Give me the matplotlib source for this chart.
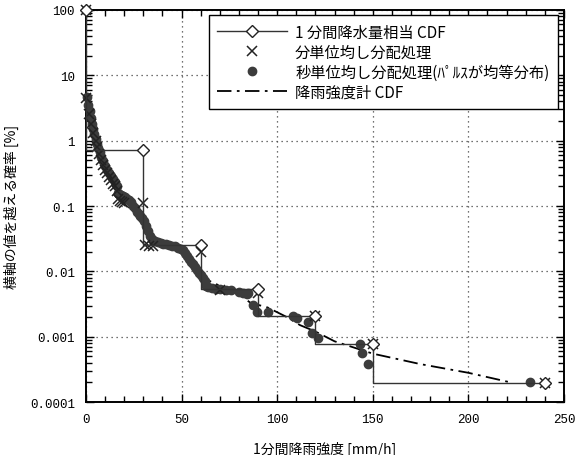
import numpy as np
import matplotlib
matplotlib.use("Agg")
import matplotlib.pyplot as plt
from matplotlib.ticker import FixedLocator, MultipleLocator, FuncFormatter, LogLocator, NullFormatter

plt.rcParams['font.family'] = ['Noto Sans CJK JP', 'DejaVu Sans']

# 1分間降水量相当 CDF (steps)
step_x = [0, 30, 60, 90, 120, 150, 240]
step_y = [100, 0.73, 0.025, 0.0053, 0.0021, 0.00076, 0.000195]

# 分単位均し分配処理
min_x = [0, 0, 1.5, 2.5, 3.5, 5, 6, 7, 8, 9, 10, 11, 12, 13, 14, 15, 16, 17, 18, 19, 20,
         30, 31, 33, 35, 60, 70, 90, 120, 150, 240]
min_y = [100, 4.5, 2.6, 1.8, 1.3, 1.0, 0.8, 0.62, 0.5, 0.42, 0.36, 0.32, 0.28, 0.25, 0.22,
         0.2, 0.17, 0.13, 0.12, 0.115, 0.11,
         0.11, 0.025, 0.024, 0.024, 0.02, 0.0052, 0.0046, 0.0021, 0.00076, 0.000195]

# 秒単位均し分配処理(パルスが均等分布)
sec_x = [0, 0.3, 1, 2, 2.6, 3.2, 3.8, 4.4, 5, 5.8, 6.5, 7.2, 8, 9, 10, 11, 12, 13, 14, 15,
         16, 16.5, 17.5, 18.5, 19.5, 20.5, 21.5, 22.5, 23.5, 24.5, 25.5, 26.5, 27.5, 28.5,
         29.5, 30.5, 31.5, 32.5, 33.5, 34.5, 36, 37.5, 39, 40.5, 42, 43.5, 45, 46.5, 48,
         49.5, 51, 52, 53, 54, 55, 56, 57, 58, 59, 60, 61, 62, 63, 64, 66, 68, 70, 73, 76,
         80, 82, 84, 85, 87.5, 89.3, 95.3, 108.4, 110.2, 116.3, 118, 121.5, 143.3, 144.2,
         147.6, 232.2]
sec_y = [100, 4.6, 3.5, 2.8, 2.2, 1.8, 1.5, 1.25, 1.05, 0.9, 0.78, 0.66, 0.56, 0.48, 0.41,
         0.36, 0.32, 0.29, 0.26, 0.23, 0.2, 0.16, 0.15, 0.145, 0.14, 0.135, 0.13, 0.125,
         0.115, 0.1, 0.092, 0.08, 0.075, 0.07, 0.065, 0.058, 0.05, 0.042, 0.035, 0.031,
         0.029, 0.028, 0.027, 0.0265, 0.026, 0.025, 0.0245, 0.024, 0.023, 0.022, 0.021,
         0.019, 0.017, 0.0155, 0.014, 0.0128, 0.0115, 0.0105, 0.0095, 0.0088, 0.0078,
         0.007, 0.006, 0.0057, 0.0055, 0.0054, 0.0053, 0.0052, 0.0051, 0.0048, 0.0047,
         0.0045, 0.0046, 0.0031, 0.0024, 0.0024, 0.0021, 0.0019, 0.0017, 0.00114, 0.00097,
         0.00077, 0.00056, 0.00038, 0.0002]

# 降雨強度計 CDF
gauge_x = [0, 0, 2, 5, 10, 15, 17, 22, 27, 30, 33, 36, 45, 50, 55, 60, 63, 70, 80, 86, 95,
           105, 112, 120, 130, 150, 175, 200, 222]
gauge_y = [100, 5, 2.5, 1.1, 0.42, 0.23, 0.15, 0.12, 0.08, 0.06, 0.037, 0.029, 0.025, 0.02,
           0.013, 0.009, 0.0075, 0.006, 0.0045, 0.0033, 0.0028, 0.002, 0.0015, 0.0012,
           0.00085, 0.00055, 0.00038, 0.00028, 0.0002]

fig = plt.figure(figsize=(5.79, 4.56), dpi=100)
ax = fig.add_axes([0.1485, 0.1162, 0.8255, 0.8597])

ax.plot(gauge_x, gauge_y, color="black", lw=1.3, dashes=(8, 3, 1.5, 3),
        label="降雨強度計 CDF", zorder=2)
ax.plot(step_x, step_y, drawstyle="steps-pre", color="#333333", lw=1.0, marker="D",
        ms=6.5, mfc="white", mec="#222222", mew=1.0, label="1 分間降水量相当 CDF",
        zorder=5, clip_on=False)
ax.plot(min_x, min_y, ls="none", marker="x", ms=7, mec="#222222", mew=1.1,
        label="分単位均し分配処理", zorder=4, clip_on=False)
ax.plot(sec_x, sec_y, ls="none", marker="o", ms=6, mfc="#3c3c3c", mec="#3c3c3c",
        label="秒単位均し分配処理(ﾊﾟﾙｽが均等分布)", zorder=3, clip_on=False)

ax.set_yscale("log")
ax.set_xlim(0, 250)
ax.set_ylim(0.0001, 100)
ax.xaxis.set_major_locator(MultipleLocator(50))
ax.xaxis.set_minor_locator(MultipleLocator(10))
ax.yaxis.set_major_locator(FixedLocator([1e-4, 1e-3, 1e-2, 1e-1, 1, 10, 100]))
ax.yaxis.set_minor_locator(LogLocator(base=10, subs=np.arange(2, 10), numticks=20))
ax.yaxis.set_minor_formatter(NullFormatter())
ax.yaxis.set_major_formatter(FuncFormatter(lambda v, p: f"{v:g}"))

ax.tick_params(which="both", direction="in", top=True, right=True, width=1.0,
               labelsize=9, pad=8)
ax.tick_params(which="major", length=6)
ax.tick_params(which="minor", length=4)
for lab in ax.get_xticklabels() + ax.get_yticklabels():
    lab.set_family("Liberation Mono")
for s in ax.spines.values():
    s.set_linewidth(1.4)

ax.grid(True, which="major", color="#444444", lw=0.9, ls=(0, (1, 3)))

ax.set_xlabel("1分間降雨強度 [mm/h]", fontsize=10, labelpad=11)
ax.set_ylabel("横軸の値を越える確率 [%]", fontsize=10, labelpad=8)

h, l = ax.get_legend_handles_labels()
order = [1, 2, 3, 0]
leg = ax.legend([h[i] for i in order], [l[i] for i in order], loc="upper right",
                bbox_to_anchor=(0.987, 0.987), borderaxespad=0, fancybox=False,
                edgecolor="black", framealpha=1, fontsize=11, handlelength=4.6,
                handletextpad=0.5, labelspacing=0.2, borderpad=0.55)
leg.get_frame().set_linewidth(1.0)

fig.savefig("out.png", dpi=100)
